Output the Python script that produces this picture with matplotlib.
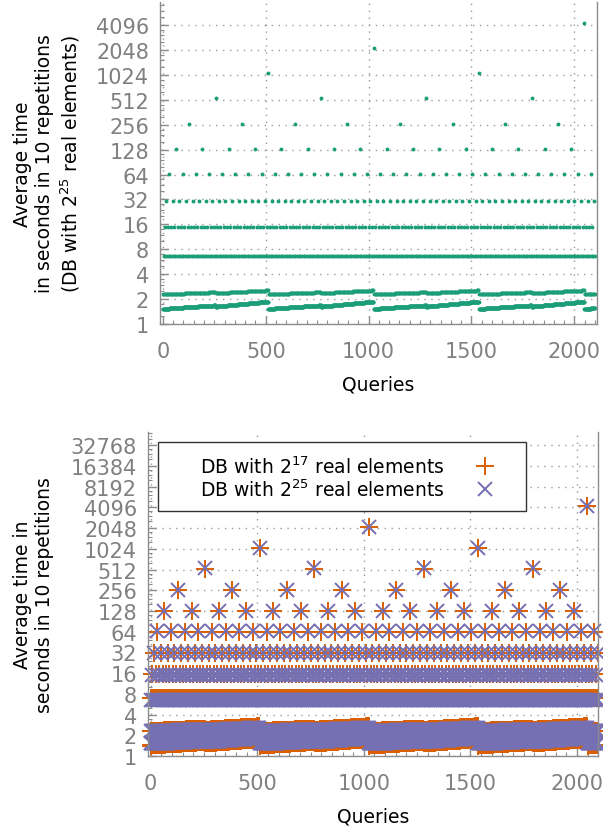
import numpy as np
import matplotlib
matplotlib.use("Agg")
import matplotlib.pyplot as plt
from matplotlib.patches import Rectangle
from matplotlib.ticker import FixedLocator, FixedFormatter, LogLocator, MultipleLocator, NullFormatter

# --- data ----------------------------------------------------------------
n_queries = 2100

# average time (s) of a query, by how often its number divides by 2
# (index = number of trailing zero bits); 0 and 1 drift, see below
levels_db25 = [None, None, 6.6, 14.8, 31.0, 64.5, 130.0, 262.0, 535.0, 1070.0, 2140.0, 4300.0]
levels_db17 = [None, None, 6.9, 15.5, 31.5, 64.0, 128.0, 260.0, 530.0, 1060.0, 2120.0, 4250.0]

# the two lowest bands creep upward inside each 512-query block
# (start, end) for the first and second half of a block
odd_db25 = [(1.52, 1.68), (1.62, 1.86)]
even_db25 = [(2.28, 2.42), (2.35, 2.55)]
odd_db17 = [(1.42, 1.60), (1.52, 1.76)]
even_db17 = [(2.30, 2.50), (2.40, 2.70)]

ytick_top = [1, 2, 4, 8, 16, 32, 64, 128, 256, 512, 1024, 2048, 4096]
ytick_bot = ytick_top + [8192, 16384, 32768]
xtick = [0, 500, 1000, 1500, 2000]

labels = ['DB with $2^{17}$ real elements', 'DB with $2^{25}$ real elements']

GREEN = '#1b9e77'
ORANGE = '#d95f02'
PURPLE = '#7570b3'
GREY = '#8c8c8c'


def query_times(levels, odd_band, even_band):
    """time of every query from its trailing-zero level"""
    queries = np.arange(1, n_queries + 1)
    times = np.zeros(n_queries)
    for k, q in enumerate(queries):
        tz = 0
        while q % (2 ** (tz + 1)) == 0:
            tz += 1
        if tz >= 2:
            times[k] = levels[tz]
        else:
            band = odd_band if tz == 0 else even_band
            half = (q % 512) // 256
            frac = (q % 256) / 256.0
            lo, hi = band[half]
            times[k] = lo + (hi - lo) * frac
    return queries, times


def style_axes(ax, yticks, ylim, xlim):
    ax.set_yscale('log', base=2)
    ax.set_ylim(*ylim)
    ax.set_xlim(*xlim)
    ax.yaxis.set_major_locator(FixedLocator(yticks))
    ax.yaxis.set_major_formatter(FixedFormatter([str(t) for t in yticks]))
    ax.yaxis.set_minor_locator(LogLocator(base=2, subs=(1.25, 1.5, 1.75), numticks=40))
    ax.yaxis.set_minor_formatter(NullFormatter())
    ax.xaxis.set_major_locator(FixedLocator(xtick))
    ax.xaxis.set_minor_locator(MultipleLocator(50))
    ax.spines['top'].set_visible(False)
    for s in ['left', 'bottom', 'right']:
        ax.spines[s].set_color(GREY)
        ax.spines[s].set_linewidth(1.0)
    ax.tick_params(which='both', direction='in', color=GREY, labelcolor='#808080',
                   labelsize=15, right=False, top=False)
    ax.tick_params(which='major', length=6, width=1)
    ax.tick_params(which='minor', length=3, width=0.8)
    ax.tick_params(axis='y', pad=8)
    ax.tick_params(axis='x', pad=12)
    ax.grid(True, which='major', linestyle=(0, (1, 4)), color='#999999', linewidth=1)
    ax.set_axisbelow(True)


q25, t25 = query_times(levels_db25, odd_db25, even_db25)
q17, t17 = query_times(levels_db17, odd_db17, even_db17)

fig = plt.figure(figsize=(6.03, 8.29), dpi=100)

# top panel
ax1 = fig.add_axes([160 / 603, 1 - 325 / 829, 437 / 603, 322 / 829])
ax1.plot(q25, t25, linestyle='none', marker='o', markersize=2.8, color=GREEN,
         markeredgewidth=0)
style_axes(ax1, ytick_top, (1, 7800), (-14, 2110))
ax1.set_xlabel('Queries', fontsize=13.5, labelpad=10)
ax1.set_ylabel('Average time\nin seconds in 10 repetitions\n(DB with $2^{25}$ real elements)',
               fontsize=13.5, labelpad=10)

# bottom panel
ax2 = fig.add_axes([148 / 603, 1 - 757 / 829, 450 / 603, 324 / 829])
ax2.plot(q17, t17, linestyle='none', marker='+', markersize=13, markeredgewidth=1.4,
         color=ORANGE, clip_on=False)
ax2.plot(q25, t25, linestyle='none', marker='x', markersize=10, markeredgewidth=1.4,
         color=PURPLE, clip_on=False)
style_axes(ax2, ytick_bot, (1, 51000), (-12, 2098))
ax2.set_xlabel('Queries', fontsize=13.5, labelpad=10)
ax2.set_ylabel('Average time in\nseconds in 10 repetitions', fontsize=13.5, labelpad=12)

# key box, gnuplot style: text right-aligned, sample to the right
def ax_frac(px, py):
    return (px - 148) / 450.0, (757 - py) / 324.0

x0, y0 = ax_frac(158, 512)
x1, y1 = ax_frac(526, 443)
ax2.add_patch(Rectangle((x0, y0), x1 - x0, y1 - y0, transform=ax2.transAxes,
                        facecolor='white', edgecolor='#333333', linewidth=1.0, zorder=5))
for (py, lab, mk, ms, col) in [(467, labels[0], '+', 13, ORANGE),
                               (490, labels[1], 'x', 10, PURPLE)]:
    tx, ty = ax_frac(444, py)
    ax2.text(tx, ty, lab, transform=ax2.transAxes, ha='right', va='center',
             fontsize=13.5, zorder=6)
    mx, my = ax_frac(485, py)
    ax2.plot([mx], [my], marker=mk, markersize=ms, markeredgewidth=1.4, color=col,
             transform=ax2.transAxes, linestyle='none', zorder=6, clip_on=False)

fig.savefig('out.png', dpi=100)
